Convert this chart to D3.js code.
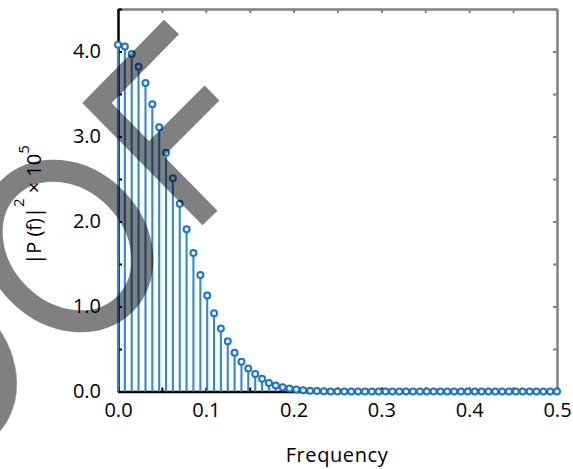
<!DOCTYPE html>
<html>
<head>
<meta charset="utf-8">
<script src="https://cdn.jsdelivr.net/npm/d3@7"></script>
<style>
  body { margin: 0; background: #fff; }
  svg text { font-family: "Open Sans", sans-serif; }
</style>
</head>
<body>
<div class="stem_wrapper"></div>
<script>
// frequency bins (cycles / sample)
const frequency = [0, 0.0078, 0.0156, 0.0234, 0.0313, 0.0391, 0.0469, 0.0547, 0.0625, 0.0703,
  0.0781, 0.0859, 0.0938, 0.1016, 0.1094, 0.1172, 0.125, 0.1328, 0.1406, 0.1484,
  0.1563, 0.1641, 0.1719, 0.1797, 0.1875, 0.1953, 0.2031, 0.2109, 0.2188, 0.2266,
  0.2344, 0.2422, 0.25, 0.2578, 0.2656, 0.2734, 0.2813, 0.2891, 0.2969, 0.3047,
  0.3125, 0.3203, 0.3281, 0.3359, 0.3438, 0.3516, 0.3594, 0.3672, 0.375, 0.3828,
  0.3906, 0.3984, 0.4063, 0.4141, 0.4219, 0.4297, 0.4375, 0.4453, 0.4531, 0.4609,
  0.4688, 0.4766, 0.4844, 0.4922, 0.5]

// |P(f)|^2 in units of 10^5
const power = [4.08, 4.06, 3.97, 3.82, 3.63, 3.38, 3.11, 2.81, 2.51, 2.21,
  1.91, 1.63, 1.37, 1.13, 0.92, 0.74, 0.59, 0.455, 0.35, 0.27,
  0.205, 0.15, 0.10, 0.07, 0.05, 0.035, 0.024, 0.015, 0.01, 0.006,
  0.004, 0, 0, 0, 0, 0, 0, 0, 0, 0,
  0, 0, 0, 0, 0, 0, 0, 0, 0, 0,
  0, 0, 0, 0, 0, 0, 0, 0, 0, 0,
  0, 0, 0, 0, 0]

const xTicks = [0, 0.05, 0.1, 0.15, 0.2, 0.25, 0.3, 0.35, 0.4, 0.45, 0.5]
const xLabels = [0, 0.1, 0.2, 0.3, 0.4, 0.5]
const yTicks = [0, 0.5, 1, 1.5, 2, 2.5, 3, 3.5, 4, 4.5]
const yLabels = [0, 1, 2, 3, 4]

const data = frequency.map((f, i) => ({f: f, p: power[i]}))

const W = 573, H = 469
const svg = d3.select(".stem_wrapper")
  .append("svg")
    .attr("width", W)
    .attr("height", H)

const xScale = d3.scaleLinear().domain([0, 0.5]).range([118, 557])
const yScale = d3.scaleLinear().domain([0, 4.5]).range([391.5, 9])

// gray box (top / right)
svg.append("g")
  .attr("transform", "translate(0," + yScale(4.5) + ")")
  .call(d3.axisTop(xScale).tickValues(xTicks).tickSizeInner(-4).tickSizeOuter(0).tickFormat(""))
  .call(g => g.select(".domain").attr("stroke", "#808080").attr("stroke-width", 2.5))
  .call(g => g.selectAll(".tick line").attr("stroke", "#808080").attr("stroke-width", 2))

svg.append("g")
  .attr("transform", "translate(" + xScale(0.5) + ",0)")
  .call(d3.axisRight(yScale).tickValues(yTicks).tickSizeInner(-4).tickSizeOuter(0).tickFormat(""))
  .call(g => g.select(".domain").attr("stroke", "#808080").attr("stroke-width", 2.5))
  .call(g => g.selectAll(".tick line").attr("stroke", "#808080").attr("stroke-width", 2))

// black axes
const fmt = d => d.toFixed(1)

svg.append("g")
  .attr("transform", "translate(0," + yScale(0) + ")")
  .call(d3.axisBottom(xScale).tickValues(xTicks).tickSizeInner(-4).tickSizeOuter(0).tickPadding(11)
    .tickFormat(d => xLabels.some(v => Math.abs(v - d) < 1e-9) ? fmt(d) : ""))
  .call(g => g.select(".domain").attr("stroke", "#000").attr("stroke-width", 2.5))
  .call(g => g.selectAll(".tick line").attr("stroke", "#000").attr("stroke-width", 2))
  .call(g => g.selectAll("text").attr("font-size", 20).attr("fill", "#000").attr("font-family", "Open Sans"))

svg.append("g")
  .attr("transform", "translate(" + xScale(0) + ",0)")
  .call(d3.axisLeft(yScale).tickValues(yTicks).tickSizeInner(-4).tickSizeOuter(0).tickPadding(17)
    .tickFormat(d => yLabels.includes(d) ? fmt(d) : ""))
  .call(g => g.select(".domain").attr("stroke", "#000").attr("stroke-width", 2.5))
  .call(g => g.selectAll(".tick line").attr("stroke", "#000").attr("stroke-width", 2))
  .call(g => g.selectAll("text").attr("font-size", 20).attr("fill", "#000").attr("font-family", "Open Sans"))

// stems
svg.selectAll("line.stem")
  .data(data)
  .enter()
  .append("line")
    .attr("class", "stem")
    .attr("x1", d => xScale(d.f))
    .attr("x2", d => xScale(d.f))
    .attr("y1", d => yScale(d.p))
    .attr("y2", yScale(0))
    .attr("stroke", "#3288d8")
    .attr("stroke-width", 2.1)

svg.selectAll("circle.head")
  .data(data)
  .enter()
  .append("circle")
    .attr("class", "head")
    .attr("cx", d => xScale(d.f))
    .attr("cy", d => yScale(d.p))
    .attr("r", 3)
    .attr("fill", "#eaf3fc")
    .attr("stroke", "#1e73c4")
    .attr("stroke-width", 2)

// axis titles
svg.append("text")
  .attr("x", 337)
  .attr("y", 462)
  .attr("text-anchor", "middle")
  .attr("font-size", 20)
  .attr("letter-spacing", 0.6)
  .text("Frequency")

const yt = svg.append("text")
  .attr("transform", "translate(41,205) rotate(-90)")
  .attr("text-anchor", "middle")
  .attr("font-size", 20)
yt.append("tspan").text("|P (f)|")
yt.append("tspan").attr("dy", -17).attr("font-size", 15).text("2")
yt.append("tspan").attr("dy", 17).text(" \u00d7 10")
yt.append("tspan").attr("dy", -12).attr("font-size", 15).text("5")

// watermark overlay
const wm = svg.append("g").attr("opacity", 0.5)
  .attr("fill", "none").attr("stroke", "#000")
wm.append("path")
  .attr("d", "M171.5,27 L97,103 L210,218")
  .attr("stroke-width", 21)
  .attr("stroke-linejoin", "miter")
  .attr("stroke-linecap", "butt")
wm.append("path")
  .attr("d", "M149.5,155.5 L212,93")
  .attr("stroke-width", 21)
wm.append("ellipse")
  .attr("cx", 67).attr("cy", 246).attr("rx", 68).attr("ry", 82)
  .attr("transform", "rotate(-45,67,246)")
  .attr("stroke-width", 22)
wm.append("ellipse")
  .attr("cx", -70).attr("cy", 369).attr("rx", 68).attr("ry", 83)
  .attr("transform", "rotate(-45,-70,369)")
  .attr("stroke-width", 22)
</script>
</body>
</html>
